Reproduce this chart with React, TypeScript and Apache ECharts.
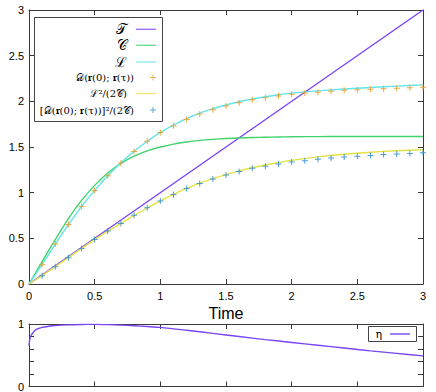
import React, { useEffect, useRef } from "react";
import * as echarts from "echarts";

// ---- data ----
const lineTimes = [0, 0.1, 0.2, 0.3, 0.4, 0.5, 0.6, 0.7, 0.8, 0.9, 1.0, 1.1, 1.2, 1.3, 1.4, 1.5, 1.6, 1.7, 1.8, 1.9, 2.0, 2.2, 2.4, 2.6, 2.8, 3.0];
const cValues = [0, 0.245, 0.485, 0.715, 0.915, 1.08, 1.215, 1.32, 1.4, 1.458, 1.5, 1.532, 1.555, 1.572, 1.584, 1.593, 1.599, 1.604, 1.607, 1.61, 1.612, 1.614, 1.615, 1.615, 1.615, 1.615];
const lValues = [0, 0.215, 0.435, 0.65, 0.85, 1.025, 1.185, 1.328, 1.453, 1.563, 1.66, 1.74, 1.81, 1.87, 1.92, 1.96, 1.995, 2.025, 2.05, 2.072, 2.09, 2.115, 2.135, 2.152, 2.167, 2.18];
const l2Values = [0, 0.093, 0.19, 0.29, 0.39, 0.486, 0.578, 0.665, 0.75, 0.832, 0.91, 0.982, 1.047, 1.104, 1.154, 1.198, 1.238, 1.273, 1.303, 1.33, 1.354, 1.392, 1.421, 1.443, 1.459, 1.47];
const tTimes = [0, 3];
const tValues = [0, 3];

const markerTimes = [0.1, 0.2, 0.3, 0.4, 0.5, 0.6, 0.7, 0.8, 0.9, 1.0, 1.1, 1.2, 1.3, 1.4, 1.5, 1.6, 1.7, 1.8, 1.9, 2.0, 2.1, 2.2, 2.3, 2.4, 2.5, 2.6, 2.7, 2.8, 2.9, 3.0];
const dValues = [0.21, 0.437, 0.652, 0.849, 1.024, 1.184, 1.326, 1.45, 1.563, 1.66, 1.734, 1.8, 1.862, 1.909, 1.949, 1.984, 2.016, 2.04, 2.058, 2.078, 2.09, 2.1, 2.11, 2.12, 2.127, 2.132, 2.137, 2.143, 2.148, 2.153];
const d2Values = [0.091, 0.19, 0.288, 0.39, 0.488, 0.579, 0.663, 0.754, 0.834, 0.91, 0.98, 1.046, 1.1, 1.15, 1.193, 1.231, 1.268, 1.29, 1.315, 1.335, 1.35, 1.366, 1.38, 1.39, 1.4, 1.408, 1.417, 1.423, 1.43, 1.437];

const etaTimes = [0, 0.005, 0.01, 0.02, 0.05, 0.1, 0.15, 0.2, 0.3, 0.4, 0.5, 0.6, 0.7, 0.8, 0.9, 1.0, 1.2, 1.4, 1.6, 1.8, 2.0, 2.2, 2.4, 2.6, 2.8, 3.0];
const etaValues = [0.65, 0.74, 0.79, 0.83, 0.905, 0.945, 0.963, 0.975, 0.986, 0.992, 0.994, 0.99, 0.982, 0.972, 0.96, 0.946, 0.9, 0.85, 0.8, 0.75, 0.705, 0.66, 0.615, 0.57, 0.53, 0.49];

const xTicks = { min: 0, max: 3, interval: 0.5 };
const yTopTicks = { min: 0, max: 3, interval: 0.5 };
const yBottomTicks = { min: 0, max: 1, interval: 0.2 };

// ---- names ----
const nT = "𝒯";
const nC = "𝒞";
const nL = "ℒ";
const nD = "𝒟(𝐫(0); 𝐫(τ))";
const nL2 = "ℒ²/(2𝒞)";
const nD2 = "[𝒟(𝐫(0); 𝐫(τ))]²/(2𝒞)";
const nEta = "η";

const colT = "#7a45f5";
const colC = "#3fd46c";
const colL = "#62e4e8";
const colD = "#e8a030";
const colL2 = "#e2e244";
const colD2 = "#3a92d2";

const plusPath = "path://M2.5,0h1v2.5h2.5v1h-2.5v2.5h-1v-2.5h-2.5v-1h2.5z";
const FONT = "'Liberation Sans', Arial, Helvetica, sans-serif";
const MATH = "'DejaVu Serif', 'Liberation Serif', serif";
const AX = "#3a3a3a";

const zip = (xs: number[], ys: number[]) => xs.map((x, i) => [x, ys[i]]);

function axisBase(extra: any) {
  return {
    type: "value",
    splitLine: { show: false },
    axisLine: { show: true, onZero: false, lineStyle: { color: AX, width: 1 } },
    axisTick: { show: true, inside: true, length: 5, lineStyle: { color: AX, width: 1 } },
    ...extra,
  };
}

const lineSeries = (name: string, xs: number[], ys: number[], color: string, xi = 0, yi = 0) => ({
  type: "line",
  name,
  data: zip(xs, ys),
  xAxisIndex: xi,
  yAxisIndex: yi,
  showSymbol: false,
  symbol: "none",
  smooth: 0.3,
  lineStyle: { color, width: 1.4 },
  itemStyle: { color },
  z: 2,
});

const scatterSeries = (name: string, xs: number[], ys: number[], color: string) => ({
  type: "scatter",
  name,
  data: zip(xs, ys),
  xAxisIndex: 0,
  yAxisIndex: 0,
  symbol: plusPath,
  symbolSize: 6,
  itemStyle: { color, opacity: 0.9 },
  z: 3,
});

type LegendEntry = { name: string; cy: number; size: number; isMarker: boolean; color: string };
const legendEntries: LegendEntry[] = [
  { name: nT, cy: 29.3, size: 14, isMarker: false, color: colT },
  { name: nC, cy: 45.3, size: 14, isMarker: false, color: colC },
  { name: nL, cy: 62, size: 14, isMarker: false, color: colL },
  { name: nD, cy: 77.5, size: 10, isMarker: true, color: colD },
  { name: nL2, cy: 93.5, size: 10, isMarker: false, color: colL2 },
  { name: nD2, cy: 110, size: 10, isMarker: true, color: colD2 },
];

const option: any = {
  animation: false,
  backgroundColor: "#fff",
  grid: [
    { left: 29, right: 13, top: 10, height: 274 },
    { left: 29, right: 13, top: 324, height: 63 },
  ],
  xAxis: [
    axisBase({
      gridIndex: 0,
      position: "bottom",
      ...xTicks,
      axisLabel: { margin: 6, fontSize: 11, color: "#000", fontFamily: FONT },
      name: "Time",
      nameLocation: "middle",
      nameGap: 18,
      nameTextStyle: { fontSize: 16, color: "#000", fontFamily: FONT },
    }),
    axisBase({ gridIndex: 0, position: "top", ...xTicks, axisLabel: { show: false } }),
    axisBase({ gridIndex: 1, position: "bottom", ...xTicks, axisLabel: { show: false } }),
    axisBase({ gridIndex: 1, position: "top", ...xTicks, axisLabel: { show: false } }),
  ],
  yAxis: [
    axisBase({
      gridIndex: 0,
      position: "left",
      ...yTopTicks,
      axisLabel: { margin: 5, fontSize: 11, color: "#000", fontFamily: FONT },
    }),
    axisBase({ gridIndex: 0, position: "right", ...yTopTicks, axisLabel: { show: false } }),
    axisBase({
      gridIndex: 1,
      position: "left",
      ...yBottomTicks,
      axisLabel: {
        margin: 5,
        fontSize: 11,
        color: "#000",
        fontFamily: FONT,
        formatter: (v: number) => (v === 0 || v === 1 ? String(v) : ""),
      },
    }),
    axisBase({ gridIndex: 1, position: "right", ...yBottomTicks, axisLabel: { show: false } }),
  ],
  graphic: [
    { type: "rect", z: 3, shape: { x: 34.5, y: 17.5, width: 128, height: 104 }, style: { fill: "#fff", stroke: "#444", lineWidth: 1 } },
    { type: "rect", z: 3, shape: { x: 368.5, y: 326.5, width: 48, height: 15 }, style: { fill: "#fff", stroke: "#444", lineWidth: 1 } },
  ],
  legend: [
    ...legendEntries.map((e) => ({
      data: [
        e.isMarker
          ? { name: e.name, icon: plusPath, itemStyle: { color: e.color, opacity: 0.8 } }
          : { name: e.name, icon: "rect", itemStyle: { color: e.color, opacity: 0.75 } },
      ],
      orient: "vertical",
      align: "right",
      right: 280,
      top: e.cy - 7,
      padding: 0,
      itemWidth: 20,
      itemHeight: e.isMarker ? 6 : 1.4,
      symbolKeepAspect: true,
      selectedMode: false,
      z: 5,
      textStyle: { fontFamily: MATH, fontSize: e.size, lineHeight: 14, color: "#000", padding: [0, 4, 0, 0] },
    })),
    {
      data: [{ name: nEta, icon: "rect", itemStyle: { color: colT } }],
      orient: "vertical",
      align: "right",
      right: 26,
      top: 334 - 7,
      padding: 0,
      itemWidth: 20,
      itemHeight: 1.4,
      selectedMode: false,
      z: 5,
      textStyle: { fontFamily: MATH, fontSize: 11, lineHeight: 14, color: "#000", padding: [0, 3, 0, 0] },
    },
  ],
  series: [
    lineSeries(nT, tTimes, tValues, colT),
    lineSeries(nC, lineTimes, cValues, colC),
    lineSeries(nL, lineTimes, lValues, colL),
    scatterSeries(nD, markerTimes, dValues, colD),
    lineSeries(nL2, lineTimes, l2Values, colL2),
    scatterSeries(nD2, markerTimes, d2Values, colD2),
    lineSeries(nEta, etaTimes, etaValues, colT, 2, 2),
  ],
};

export default function App() {
  const ref = useRef<HTMLDivElement>(null);
  useEffect(() => {
    const chart = echarts.init(ref.current!, undefined, { renderer: "svg" });
    chart.setOption(option);
    return () => chart.dispose();
  }, []);
  return (
    <div
      ref={ref}
      style={{ position: "fixed", left: 0, top: 0, width: 436, height: 392, background: "#fff" }}
    />
  );
}
